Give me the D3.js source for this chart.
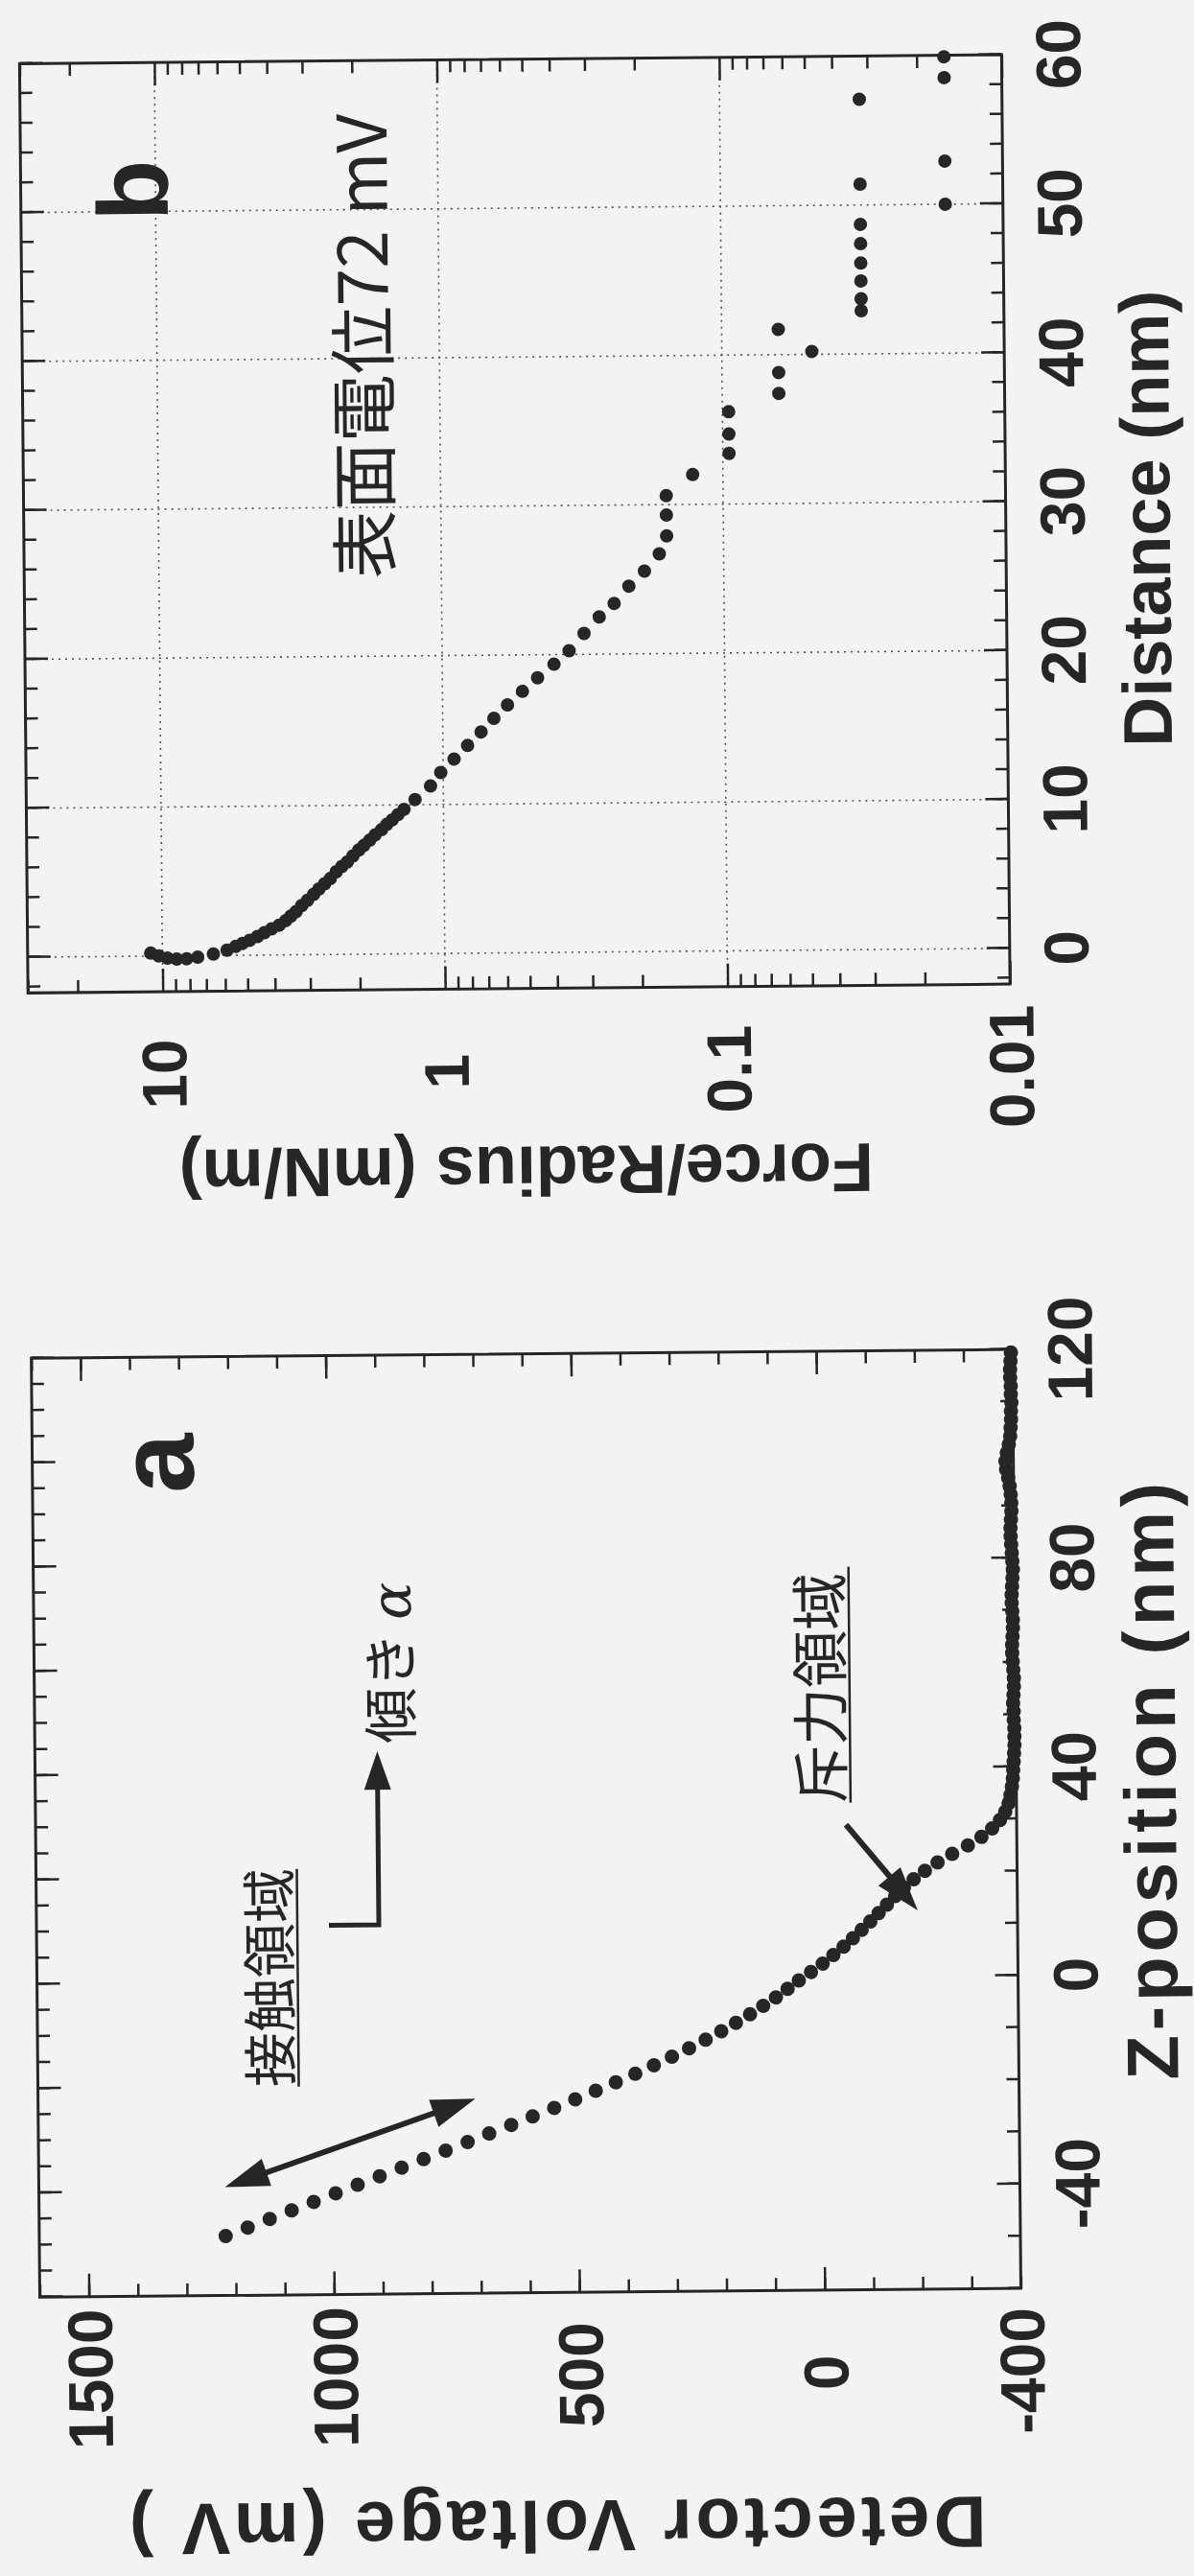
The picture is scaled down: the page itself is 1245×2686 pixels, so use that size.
<!DOCTYPE html>
<html>
<head>
<meta charset="utf-8">
<script src="https://cdn.jsdelivr.net/npm/d3@7"></script>
<style>
  body { margin: 0; background: #f4f3f4; }
  svg { display: block; }
</style>
</head>
<body>
<div id="canvas"></div>
<script>
// ---- data ----
// panel a: detector voltage vs z-position
var zPos = [-48.6, -47.0, -45.4, -43.8, -42.2, -40.6, -39.0, -37.4, -35.8, -34.2,
  -32.6, -31.0, -29.4, -27.8, -26.2, -24.6, -23.0, -21.4, -19.8, -18.2,
  -16.6, -15.0, -13.4, -11.8, -10.2, -8.6, -7.0, -5.4, -3.8, -2.2,
  -0.6, 1.0, 2.6, 4.2, 5.8, 7.4, 9.0, 10.6, 12.2, 13.8,
  15.4, 17.0, 18.6, 20.2, 21.8, 23.4, 25.0, 26.6, 28.2, 29.8,
  31.4, 33.0, 34.6, 36.2, 37.8, 39.4, 41.0, 42.6, 44.2, 45.8,
  47.4, 49.0, 50.6, 52.2, 53.8, 55.4, 57.0, 58.6, 60.2, 61.8,
  63.4, 65.0, 66.6, 68.2, 69.8, 71.4, 73.0, 74.6, 76.2, 77.8,
  79.4, 81.0, 82.6, 84.2, 85.8, 87.4, 89.0, 90.6, 92.2, 93.8,
  95.4, 97.0, 98.6, 100.2, 101.8, 103.4, 105.0, 106.6, 108.2, 109.8,
  111.4, 113.0, 114.6, 116.2, 117.8, 119.4];
var voltage = [1220, 1175, 1130, 1085, 1040, 995, 950, 905, 860, 815,
  770, 725, 681, 636, 592, 548, 505, 463, 422, 382,
  344, 307, 272, 238, 206, 176, 147, 120, 94, 70,
  47, 22, -2, -24, -45, -64, -82, -100, -117, -134,
  -151, -169, -189, -212, -238, -268, -300, -328, -350, -366,
  -377, -384, -388, -391, -393, -394, -395, -396, -397, -397,
  -397, -396, -396, -395, -396, -397, -397, -396, -395, -394,
  -394, -395, -396, -396, -395, -394, -394, -395, -396, -397,
  -396, -395, -394, -393, -393, -394, -395, -395, -394, -392,
  -389, -385, -384, -387, -391, -394, -395, -396, -396, -397,
  -396, -396, -395, -395, -396, -397];

// panel b: force/radius vs distance
var distance = [0.2, 0.0, -0.15, -0.22, -0.2, -0.1, 0.1, 0.35, 0.6, 0.8,
  1.0, 1.25, 1.5, 1.75, 2.0, 2.3, 2.6, 2.9, 3.3, 3.65,
  4.05, 4.4, 4.75, 5.1, 5.55, 5.9, 6.2, 6.6, 7.0, 7.3,
  7.65, 8.0, 8.35, 8.7, 9.0, 9.35, 9.7, 10.35, 11.25, 12.15,
  13.05, 13.95, 14.85, 15.75, 16.65, 17.55, 18.45, 19.35, 20.25, 21.4,
  22.5, 23.4, 24.55, 25.55, 26.7, 27.9, 29.3, 30.6, 32.0, 33.4,
  34.7, 36.2, 37.4, 38.8, 40.2, 41.7, 42.9, 43.7, 44.9, 46.1,
  47.4, 48.7, 50.0, 51.4, 52.9, 57.1, 58.5, 59.9];
var forceRadius = [11.0, 10.3, 9.6, 8.9, 8.2, 7.5, 6.6, 5.9, 5.5, 5.2,
  4.9, 4.6, 4.35, 4.1, 3.85, 3.65, 3.5, 3.35, 3.2, 3.05,
  2.9, 2.78, 2.65, 2.53, 2.41, 2.3, 2.2, 2.1, 2.0, 1.92,
  1.83, 1.75, 1.66, 1.59, 1.52, 1.45, 1.38, 1.26, 1.11, 1.02,
  0.914, 0.818, 0.732, 0.659, 0.589, 0.521, 0.46, 0.402, 0.355, 0.314,
  0.277, 0.245, 0.217, 0.191, 0.169, 0.159, 0.159, 0.159, 0.128, 0.095,
  0.095, 0.095, 0.063, 0.063, 0.048, 0.063, 0.032, 0.032, 0.032, 0.032,
  0.032, 0.032, 0.016, 0.032, 0.016, 0.032, 0.016, 0.016];

// tick labels
var zTicks = [-40, 0, 40, 80, 120];
var vTicks = [1500, 1000, 500, 0, -400];
var dTicks = [0, 10, 20, 30, 40, 50, 60];
var fTicks = [10, 1, 0.1, 0.01];

var W = 1245, H = 2686;
var ink = "#262626";
var latin = "'Liberation Sans', Arial, Helvetica, sans-serif";
var cjk = "'Noto Sans CJK JP', 'Noto Sans CJK SC', sans-serif";

var svg = d3.select("#canvas").append("svg")
  .attr("width", W)
  .attr("height", H);

svg.append("rect").attr("width", W).attr("height", H).attr("fill", "#f4f3f4");

// the scanned page sits a little askew, and the landscape figure is turned
// a quarter turn anticlockwise
var page = svg.append("g").attr("transform", "rotate(-0.52, 622, 1343)");
var fig = page.append("g").attr("transform", "translate(0," + H + ") rotate(-90)");

// ---------- helpers ----------
function ticks(g, axis) {
  var t = g.append("g").call(axis);
  t.select(".domain").remove();
  t.selectAll("line").attr("stroke", ink).attr("stroke-width", 2.5);
  return t;
}

function arrowHead(g, x1, y1, x2, y2, len, wid) {
  var a = Math.atan2(y2 - y1, x2 - x1);
  var bx = x2 - len * Math.cos(a), by = y2 - len * Math.sin(a);
  var nx = -Math.sin(a) * wid / 2, ny = Math.cos(a) * wid / 2;
  g.append("path")
    .attr("d", "M" + x2 + "," + y2 + "L" + (bx + nx) + "," + (by + ny) + "L" + (bx - nx) + "," + (by - ny) + "Z")
    .attr("fill", ink);
}

// ---------- panel a ----------
var aL = 296, aR = 1275, aT = 32, aB = 1055;
var ax = d3.scaleLinear().domain([-60, 120]).range([aL, aR]);
var ay = d3.scaleLinear().domain([-400, 1600]).range([aB, aT]);
var ga = fig.append("g");

ticks(ga.append("g").attr("transform", "translate(0," + aB + ")"),
  d3.axisBottom(ax).tickValues(d3.range(-60, 121, 10)).tickSize(-13).tickFormat(""));
ticks(ga.append("g").attr("transform", "translate(0," + aB + ")"),
  d3.axisBottom(ax).tickValues(zTicks).tickSize(-24).tickFormat(""));
ticks(ga.append("g").attr("transform", "translate(0," + aT + ")"),
  d3.axisTop(ax).tickValues(d3.range(-60, 121, 5)).tickSize(-13).tickFormat(""));
ticks(ga.append("g").attr("transform", "translate(0," + aT + ")"),
  d3.axisTop(ax).tickValues(d3.range(-60, 121, 20)).tickSize(-24).tickFormat(""));
ticks(ga.append("g").attr("transform", "translate(" + aL + ",0)"),
  d3.axisLeft(ay).tickValues(d3.range(-400, 1601, 100)).tickSize(-13).tickFormat(""));
ticks(ga.append("g").attr("transform", "translate(" + aL + ",0)"),
  d3.axisLeft(ay).tickValues([0, 500, 1000, 1500]).tickSize(-24).tickFormat(""));
ticks(ga.append("g").attr("transform", "translate(" + aR + ",0)"),
  d3.axisRight(ay).tickValues(d3.range(-400, 1601, 100)).tickSize(-13).tickFormat(""));
ticks(ga.append("g").attr("transform", "translate(" + aR + ",0)"),
  d3.axisRight(ay).tickValues([0, 500, 1000, 1500]).tickSize(-24).tickFormat(""));

ga.append("rect")
  .attr("x", aL).attr("y", aT).attr("width", aR - aL).attr("height", aB - aT)
  .attr("fill", "none").attr("stroke", ink).attr("stroke-width", 3);

ga.append("g").selectAll("circle")
  .data(d3.zip(zPos, voltage))
  .enter().append("circle")
  .attr("cx", function (d) { return ax(d[0]); })
  .attr("cy", function (d) { return ay(d[1]); })
  .attr("r", 7.5)
  .attr("fill", ink);

ga.append("g").selectAll("text")
  .data(zTicks)
  .enter().append("text")
  .attr("x", function (d) { return ax(d); })
  .attr("y", 1138)
  .attr("text-anchor", "middle")
  .style("font", "bold 66px " + latin)
  .attr("fill", ink)
  .text(function (d) { return d; });

ga.append("g").selectAll("text")
  .data(vTicks)
  .enter().append("text")
  .attr("x", 210)
  .attr("y", function (d) { return ay(d) + 24; })
  .attr("text-anchor", "middle")
  .style("font", "bold 66px " + latin)
  .attr("fill", ink)
  .text(function (d) { return d; });

ga.append("text")
  .attr("x", 826).attr("y", 1221)
  .attr("text-anchor", "middle")
  .style("font", "bold 76px " + latin)
  .style("letter-spacing", "5px")
  .attr("fill", ink)
  .text("Z-position (nm)");

ga.append("text")
  .attr("transform", "translate(79,568) rotate(-90)")
  .attr("text-anchor", "middle")
  .style("font", "bold 76px " + latin)
  .style("letter-spacing", "4px")
  .attr("fill", ink)
  .text("Detector Voltage (mV )");

ga.append("text")
  .attr("x", 1133).attr("y", 200)
  .style("font", "bold 112px " + latin)
  .attr("fill", ink)
  .text("a");

// annotations of panel a
ga.append("text")
  .attr("x", 513).attr("y", 296)
  .style("font", "57px " + cjk)
  .attr("fill", ink)
  .text("接触領域");
ga.append("line")
  .attr("x1", 513).attr("x2", 740).attr("y1", 304).attr("y2", 304)
  .attr("stroke", ink).attr("stroke-width", 2.5);

ga.append("line")
  .attr("x1", 422).attr("y1", 264).attr("x2", 486).attr("y2", 450)
  .attr("stroke", ink).attr("stroke-width", 6);
arrowHead(ga, 486, 450, 409, 226, 46, 30);
arrowHead(ga, 422, 264, 499, 488, 46, 30);

ga.append("path")
  .attr("d", "M681,337L681,389L828,389")
  .attr("fill", "none").attr("stroke", ink).attr("stroke-width", 5);
arrowHead(ga, 681, 389, 862, 389, 40, 28);

var tilt = ga.append("text")
  .attr("x", 870).attr("y", 425)
  .style("font", "58px " + cjk)
  .attr("fill", ink);
tilt.append("tspan").text("傾き ");
tilt.append("tspan").style("font-style", "italic").style("font-family", "'DejaVu Serif', serif").text("α");

ga.append("text")
  .attr("x", 804).attr("y", 874)
  .style("font", "60px " + cjk)
  .attr("fill", ink)
  .text("斥力領域");
ga.append("line")
  .attr("x1", 804).attr("x2", 1050).attr("y1", 882).attr("y2", 882)
  .attr("stroke", ink).attr("stroke-width", 2.5);

ga.append("line")
  .attr("x1", 781).attr("y1", 877).attr("x2", 722).attr("y2", 926)
  .attr("stroke", ink).attr("stroke-width", 6);
arrowHead(ga, 781, 877, 691, 951, 46, 30);

// ---------- panel b ----------
var bL = 1656, bR = 2625, bT = 32, bB = 1056;
var bx = d3.scaleLinear().domain([-2.4, 60]).range([bL, bR]);
var by = d3.scaleLog().domain([0.01, 30]).range([bB, bT]);
var gb = fig.append("g");

// dotted grid
gb.append("g").selectAll("line")
  .data([0, 10, 20, 30, 40, 50])
  .enter().append("line")
  .attr("x1", function (d) { return bx(d); }).attr("x2", function (d) { return bx(d); })
  .attr("y1", bT).attr("y2", bB)
  .attr("stroke", "#555").attr("stroke-width", 1.6).attr("stroke-dasharray", "2,5");
gb.append("g").selectAll("line")
  .data([10, 1, 0.1])
  .enter().append("line")
  .attr("y1", function (d) { return by(d); }).attr("y2", function (d) { return by(d); })
  .attr("x1", bL).attr("x2", bR)
  .attr("stroke", "#555").attr("stroke-width", 1.6).attr("stroke-dasharray", "2,5");

var logMinor = [];
[0.01, 0.1, 1, 10].forEach(function (dec) {
  for (var k = 2; k <= 9; k++) {
    if (dec * k <= 30) logMinor.push(dec * k);
  }
});

ticks(gb.append("g").attr("transform", "translate(0," + bB + ")"),
  d3.axisBottom(bx).tickValues(d3.range(-2, 61, 2)).tickSize(-13).tickFormat(""));
ticks(gb.append("g").attr("transform", "translate(0," + bB + ")"),
  d3.axisBottom(bx).tickValues(dTicks).tickSize(-24).tickFormat(""));
ticks(gb.append("g").attr("transform", "translate(0," + bT + ")"),
  d3.axisTop(bx).tickValues(d3.range(-2, 61, 2)).tickSize(-13).tickFormat(""));
ticks(gb.append("g").attr("transform", "translate(0," + bT + ")"),
  d3.axisTop(bx).tickValues(dTicks).tickSize(-24).tickFormat(""));
ticks(gb.append("g").attr("transform", "translate(" + bL + ",0)"),
  d3.axisLeft(by).tickValues(logMinor).tickSize(-13).tickFormat(""));
ticks(gb.append("g").attr("transform", "translate(" + bL + ",0)"),
  d3.axisLeft(by).tickValues(fTicks).tickSize(-24).tickFormat(""));
ticks(gb.append("g").attr("transform", "translate(" + bR + ",0)"),
  d3.axisRight(by).tickValues(logMinor).tickSize(-13).tickFormat(""));
ticks(gb.append("g").attr("transform", "translate(" + bR + ",0)"),
  d3.axisRight(by).tickValues(fTicks).tickSize(-24).tickFormat(""));

gb.append("rect")
  .attr("x", bL).attr("y", bT).attr("width", bR - bL).attr("height", bB - bT)
  .attr("fill", "none").attr("stroke", ink).attr("stroke-width", 3);

gb.append("g").selectAll("circle")
  .data(d3.zip(distance, forceRadius))
  .enter().append("circle")
  .attr("cx", function (d) { return bx(d[0]); })
  .attr("cy", function (d) { return by(d[1]); })
  .attr("r", 7)
  .attr("fill", ink);

gb.append("g").selectAll("text")
  .data(dTicks)
  .enter().append("text")
  .attr("x", function (d) { return bx(d); })
  .attr("y", 1138)
  .attr("text-anchor", "middle")
  .style("font", "bold 66px " + latin)
  .attr("fill", ink)
  .text(function (d) { return d; });

gb.append("g").selectAll("text")
  .data(fTicks)
  .enter().append("text")
  .attr("x", 1570)
  .attr("y", function (d) { return by(d) + 24; })
  .attr("text-anchor", "middle")
  .style("font", "bold 66px " + latin)
  .attr("fill", ink)
  .text(function (d) { return d; });

gb.append("text")
  .attr("x", 2140).attr("y", 1227)
  .attr("text-anchor", "middle")
  .style("font", "bold 72px " + latin)
  .attr("fill", ink)
  .text("Distance (nm)");

gb.append("text")
  .attr("transform", "translate(1491,550) rotate(-90)")
  .attr("text-anchor", "middle")
  .style("font", "bold 72px " + latin)
  .attr("fill", ink)
  .text("Force/Radius (mN/m)");

gb.append("text")
  .attr("x", 2460).attr("y", 185)
  .style("font", "bold 104px " + latin)
  .attr("fill", ink)
  .text("b");

gb.append("text")
  .attr("x", 2085).attr("y", 414)
  .style("font", "71px " + cjk)
  .attr("fill", ink)
  .text("表面電位72 mV");
</script>
</body>
</html>
